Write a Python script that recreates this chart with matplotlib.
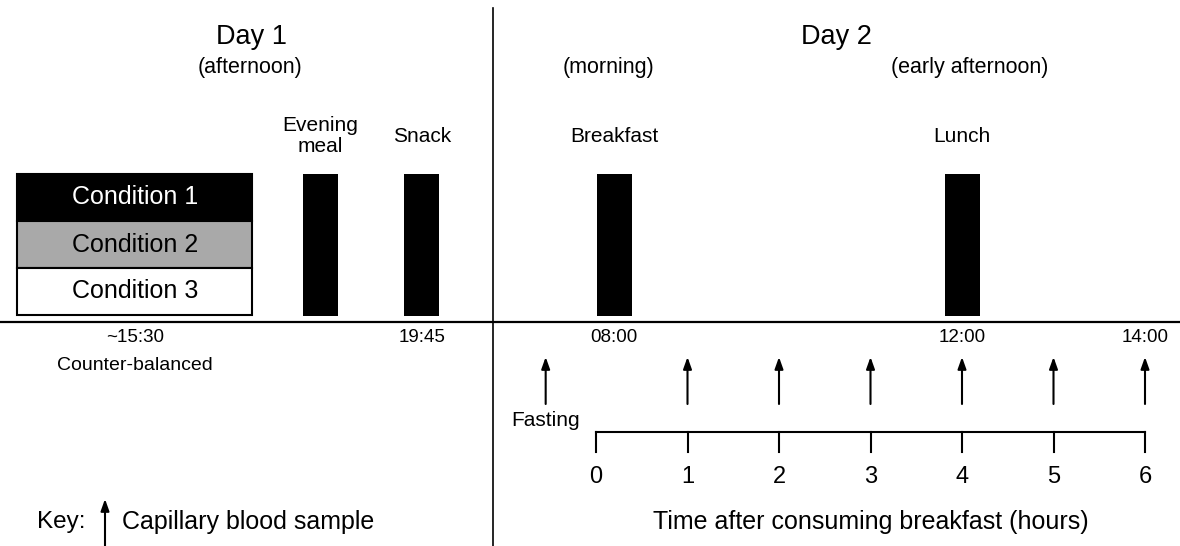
import matplotlib.pyplot as plt
from matplotlib.patches import Rectangle, FancyArrowPatch

plt.rcParams['font.family'] = ['Liberation Sans', 'DejaVu Sans']

# study conditions (counter-balanced on day 1)
conditions = ["Condition 1", "Condition 2", "Condition 3"]
condition_fill = ["black", "#a9a9a9", "white"]
condition_text = ["white", "black", "black"]

# day 1 (clock hours)
day1_meals = ["Evening\nmeal", "Snack"]
day1_meal_hours = [18.25, 19.75]
day1_times = ["~15:30", "19:45"]
day1_time_hours = [15.5, 19.75]

# day 2 (hours after breakfast, schematic)
day2_meals = ["Breakfast", "Lunch"]
day2_meal_hours = [0.2, 4.0]
day2_times = ["08:00", "12:00", "14:00"]
day2_time_hours = [0.2, 4.0, 6.0]
sample_hours = [-0.55, 1, 2, 3, 4, 5, 6]
axis_hours = [0, 1, 2, 3, 4, 5, 6]


def x_day1(t):
    return 135 + (t - 15.5) * 67.5


def x_day2(h):
    return 596 + h * 91.5


def up_arrow(ax, x, y0, y1):
    ax.add_patch(FancyArrowPatch((x, y0), (x, y1), arrowstyle='-|>,head_length=0.7,head_width=0.25',
                                 mutation_scale=10, lw=1.5, color='black', shrinkA=0, shrinkB=0))


fig = plt.figure(figsize=(11.8, 5.46), dpi=100)
ax = fig.add_axes([0, 0, 1, 1])
ax.set_xlim(0, 1180)
ax.set_ylim(546, 0)
ax.axis('off')

# frame lines
ax.plot([493, 493], [8, 546], color='black', lw=1.2)
ax.plot([0, 1180], [322, 322], color='black', lw=1.6)

# titles
ax.text(252, 37, "Day 1", ha='center', va='center', fontsize=19.5)
ax.text(250, 67, "(afternoon)", ha='center', va='center', fontsize=15.5)
ax.text(836, 37, "Day 2", ha='center', va='center', fontsize=19.5)
ax.text(608, 67, "(morning)", ha='center', va='center', fontsize=15.5)
ax.text(970, 67, "(early afternoon)", ha='center', va='center', fontsize=15.5)

# condition box
row_h = 47
for i, (lab, fc, tc) in enumerate(zip(conditions, condition_fill, condition_text)):
    y = 174 + i * row_h
    ax.add_patch(Rectangle((17, y), 235, row_h, facecolor=fc, edgecolor='black', lw=1.5))
    ax.text(135, y + row_h / 2, lab, ha='center', va='center', fontsize=18, color=tc)

# meals
bar_w = 35
for lab, t in zip(day1_meals, day1_meal_hours):
    x = x_day1(t)
    ax.add_patch(Rectangle((x - bar_w / 2, 174), bar_w, 142, facecolor='black'))
    ax.text(x, 136, lab, ha='center', va='center', fontsize=15, linespacing=1.15)
for lab, h in zip(day2_meals, day2_meal_hours):
    x = x_day2(h)
    ax.add_patch(Rectangle((x - bar_w / 2, 174), bar_w, 142, facecolor='black'))
    ax.text(x, 136, lab, ha='center', va='center', fontsize=15)

# clock times
for lab, t in zip(day1_times, day1_time_hours):
    ax.text(x_day1(t), 338, lab, ha='center', va='center', fontsize=13.5)
for lab, h in zip(day2_times, day2_time_hours):
    ax.text(x_day2(h), 338, lab, ha='center', va='center', fontsize=13.5)
ax.text(135, 365, "Counter-balanced", ha='center', va='center', fontsize=14)

# blood samples
for h in sample_hours:
    up_arrow(ax, x_day2(h), 404, 357)
ax.text(x_day2(sample_hours[0]), 420, "Fasting", ha='center', va='center', fontsize=15)

# time axis
ax.plot([x_day2(axis_hours[0]), x_day2(axis_hours[-1])], [432, 432], color='black', lw=1.5)
for h in axis_hours:
    ax.plot([x_day2(h), x_day2(h)], [432, 452], color='black', lw=1.5)
    ax.text(x_day2(h), 477, str(h), ha='center', va='center', fontsize=17)
ax.text(871, 522, "Time after consuming breakfast (hours)", ha='center', va='center', fontsize=18)

# key
ax.text(61, 522, "Key:", ha='center', va='center', fontsize=17.5)
up_arrow(ax, 105, 546, 499)
ax.text(122, 522, "Capillary blood sample", ha='left', va='center', fontsize=18)

fig.savefig("out.png", dpi=100)
